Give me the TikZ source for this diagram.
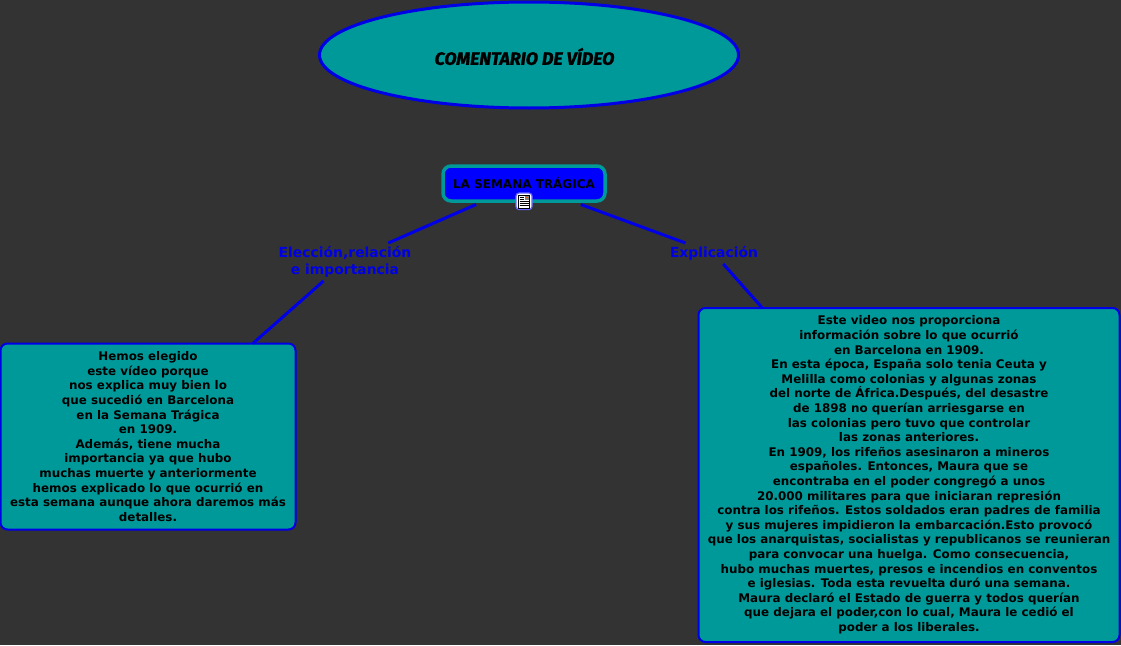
\documentclass[tikz,border=0pt]{standalone}
\usetikzlibrary{shapes.geometric}
\usepackage{fontspec}
\setmainfont{DejaVu Sans}
\newfontfamily\titlefont[BoldItalicFeatures={FakeBold=1.6}]{Fira Sans}
\definecolor{bgc}{HTML}{333333}
\definecolor{tealc}{HTML}{009999}
\definecolor{bluec}{HTML}{0000E6}
\begin{document}
\begin{tikzpicture}[x=1pt,y=-1pt,
  conn/.style={draw=bluec,line width=3pt},
  lab/.style={inner sep=0pt,outer sep=0pt,align=center,text=bluec,font=\bfseries\fontsize{13.9}{17}\selectfont},
  info/.style={draw=bluec,fill=tealc,line width=2pt,rounded corners=7pt,inner sep=0pt,outer sep=0pt,align=center,text=black,font=\bfseries\fontsize{11.9}{14.6}\selectfont}]
\useasboundingbox (0,0) rectangle (1121,645);
\fill[bgc] (0,0) rectangle (1121,645);
\node[draw=bluec,fill=tealc,line width=3pt,ellipse,minimum width=419pt,minimum height=106pt,inner sep=0pt] (title) at (529,55) {};
\node[inner sep=0pt,font=\titlefont\bfseries\itshape\fontsize{17.8}{20}\selectfont] (titletext) at (524.5,56.5) {COMENTARIO DE VÍDEO};
\node[draw=tealc,fill=blue,line width=3.5pt,rounded corners=8pt,minimum width=162pt,minimum height=35pt,inner sep=0pt,outer sep=3.5pt,font=\bfseries\fontsize{12}{14}\selectfont] (main) at (524,183.5) {LA SEMANA TRÁGICA};
\node[lab,minimum width=132pt,minimum height=38pt] (l1) at (345,262) {Elección,relación\\e importancia};
\node[lab,minimum width=88pt,minimum height=21pt] (l2) at (714,253.5) {Explicación};
\node[info,minimum width=295pt,minimum height=186pt] (b1) at (148,436.5) {Hemos elegido\\este vídeo porque\\nos explica muy bien lo\\que sucedió en Barcelona\\en la Semana Trágica\\en 1909.\\Además, tiene mucha\\importancia ya que hubo\\muchas muerte y anteriormente\\hemos explicado lo que ocurrió en\\esta semana aunque ahora daremos más\\detalles.};
\node[info,minimum width=421pt,minimum height=334pt] (b2) at (909,475) {Este video nos proporciona\\información sobre lo que ocurrió\\en Barcelona en 1909.\\En esta época, España solo tenia Ceuta y\\Melilla como colonias y algunas zonas\\del norte de África.Después, del desastre\\de 1898 no querían arriesgarse en\\las colonias pero tuvo que controlar\\las zonas anteriores.\\En 1909, los rifeños asesinaron a mineros\\españoles. Entonces, Maura que se\\encontraba en el poder congregó a unos\\20.000 militares para que iniciaran represión\\contra los rifeños. Estos soldados eran padres de familia\\y sus mujeres impidieron la embarcación.Esto provocó\\que los anarquistas, socialistas y republicanos se reunieran\\para convocar una huelga. Como consecuencia,\\hubo muchas muertes, presos e incendios en conventos\\e iglesias. Toda esta revuelta duró una semana.\\Maura declaró el Estado de guerra y todos querían\\que dejara el poder,con lo cual, Maura le cedió el\\poder a los liberales.};
\draw[conn] (main) -- (l1);
\draw[conn] (l1) -- (b1);
\draw[conn] (main) -- (l2);
\draw[conn] (l2) -- (b2);
% note icon
\fill[white,draw=blue!60!white,line width=1.2pt,rounded corners=3pt] (516,193) rectangle (532,209.5);
\draw[black,line width=.9pt,fill=white] (518.5,195) rectangle (529.5,208);
\fill[gray] (524.5,196) rectangle (528.5,200);
\fill[orange!70!red] (526,196.5) rectangle (528,198);
\draw[black,line width=.8pt] (519.5,197) -- (523.5,197) (519.5,199) -- (523.5,199) (519.5,201) -- (528.5,201) (519.5,203) -- (528.5,203) (519.5,205) -- (528.5,205);
\end{tikzpicture}
\end{document}
